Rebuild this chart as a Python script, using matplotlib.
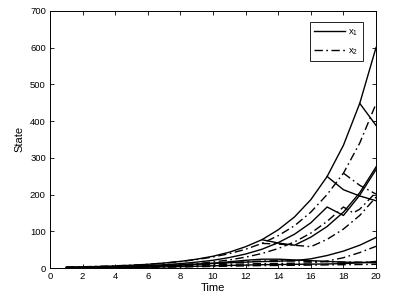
import matplotlib
matplotlib.use('Agg')
import matplotlib.pyplot as plt

plt.rcParams['font.family'] = ['Liberation Sans', 'DejaVu Sans']
plt.rcParams['mathtext.fontset'] = 'custom'
plt.rcParams['mathtext.rm'] = 'Liberation Sans'

t_full = list(range(1, 21))

# x1 trajectories (solid)
x1_main = [2.3, 3.1, 4.2, 5.6, 7.5, 10, 13.5, 18, 24, 32, 43, 58, 77, 104, 139, 186, 249, 334, 448, 600]
x1_sw19_t = [19, 20]
x1_sw19 = [448, 388]
x1_sw17_t = [17, 18, 19, 20]
x1_sw17 = [249, 213, 196, 183]
x1_sw13_t = [13, 14, 15, 16, 17, 18, 19, 20]
x1_sw13 = [77, 68, 62, 84, 113, 152, 205, 275]
x1_b_t = list(range(1, 18)) + [18, 19, 20]
x1_b = [1.6, 2.1, 2.8, 3.7, 5, 6.7, 9, 12, 16, 21, 28.5, 38, 51, 69, 92, 123, 166, 143, 198, 268]
x1_c = [1.2, 1.6, 2.2, 3, 4, 5.2, 6.8, 8.6, 10.5, 12.5, 14.5, 16, 17.5, 18.5, 20, 25, 34, 46, 62, 83]
x1_d = [0.5, 1, 1.5, 2.2, 3, 4, 5.5, 7.5, 10, 13, 17, 21, 24, 24, 22, 20, 18, 16, 15, 14]
x1_e = [0.3, 0.5, 0.8, 1.2, 1.6, 2.2, 3, 3.8, 4.8, 6, 7, 8, 9, 9.5, 10, 10.5, 11, 12, 14, 18]

# x2 trajectories (dash-dot)
x2_main = [2.6, 3.4, 4.5, 6, 7.8, 10, 13.3, 17.5, 23, 30, 39, 51, 67, 88, 115, 152, 200, 258, 340, 447]
x2_sw18_t = [18, 19, 20]
x2_sw18 = [258, 225, 201]
x2_sw13_t = [13, 14, 15, 16, 17, 18, 19, 20]
x2_sw13 = [67, 65, 62, 58, 78, 106, 143, 193]
x2_b_t = list(range(1, 19)) + [18.6, 19, 20]
x2_b = [1.2, 1.6, 2.1, 2.8, 3.8, 5, 6.8, 9, 12, 16.4, 22, 29.5, 39.5, 53, 71, 95, 127, 166, 150, 160, 206]
x2_c = [0.8, 1.1, 1.5, 2, 2.6, 3.4, 4.4, 5.6, 7, 8.5, 10, 11, 12, 12.5, 13, 14, 19, 28, 42, 59]
x2_d = [0.4, 0.8, 1.2, 1.8, 2.5, 3.4, 4.6, 6.2, 8.2, 11, 14, 17, 19, 20, 19, 18, 17, 16, 16, 16]
x2_e = [0.2, 0.4, 0.6, 0.9, 1.2, 1.6, 2.1, 2.7, 3.4, 4.2, 5, 5.8, 6.5, 7, 7.5, 8, 8.5, 9, 9.5, 10]

x_ticks = list(range(0, 21, 2))
y_ticks = list(range(0, 701, 100))

fig = plt.figure(figsize=(4.05, 3.03), dpi=100)
ax = fig.add_axes([0.1235, 0.1155, 0.805, 0.849])

lw = 1.0
dd = (6, 2.5, 1.2, 2.5)
solid = dict(color='black', lw=lw)
dash = dict(color='black', lw=lw, linestyle=(0, dd))

ax.plot(t_full, x1_main, label=r'$\mathregular{x_1}$', **solid)
ax.plot(t_full, x2_main, label=r'$\mathregular{x_2}$', **dash)

ax.plot(x1_sw19_t, x1_sw19, **solid)
ax.plot(x1_sw17_t, x1_sw17, **solid)
ax.plot(x1_sw13_t, x1_sw13, **solid)
ax.plot(x1_b_t, x1_b, **solid)
ax.plot(t_full, x1_c, **solid)
ax.plot(t_full, x1_d, **solid)
ax.plot(t_full, x1_e, **solid)

ax.plot(x2_sw18_t, x2_sw18, **dash)
ax.plot(x2_sw13_t, x2_sw13, **dash)
ax.plot(x2_b_t, x2_b, **dash)
ax.plot(t_full, x2_c, **dash)
ax.plot(t_full, x2_d, **dash)
ax.plot(t_full, x2_e, **dash)

ax.set_xlim(0, 20)
ax.set_ylim(0, 700)
ax.set_xticks(x_ticks)
ax.set_yticks(y_ticks)
ax.tick_params(direction='in', length=3, width=0.6, labelsize=6.8,
               top=True, right=True, pad=3)
for s in ax.spines.values():
    s.set_linewidth(0.7)

ax.set_xlabel('Time', fontsize=8, labelpad=1)
ax.set_ylabel('State', fontsize=8, labelpad=4)

leg = ax.legend(loc='upper right', bbox_to_anchor=(0.975, 0.973), fontsize=6.8,
                handlelength=3.3, fancybox=False, framealpha=1,
                edgecolor='black', borderpad=0.5, labelspacing=0.9,
                handletextpad=0.3)
leg.get_frame().set_linewidth(0.6)

fig.savefig('out.png', dpi=100)
